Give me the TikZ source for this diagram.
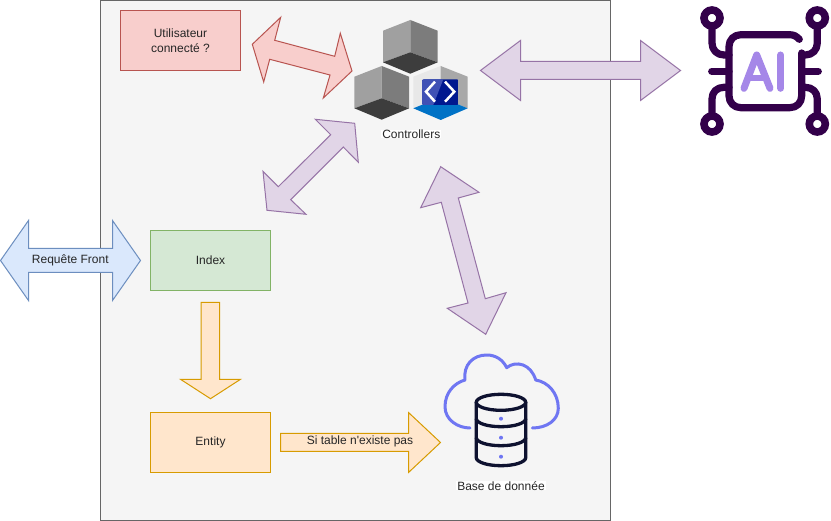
\documentclass[tikz,border=0pt]{standalone}
\usepackage{fontspec}
\setmainfont{Liberation Sans}
\newfontfamily\plainquote{Liberation Sans}
\definecolor{framefill}{HTML}{F5F5F5}
\definecolor{framedraw}{HTML}{666666}
\definecolor{purpfill}{HTML}{E1D5E7}
\definecolor{purpdraw}{HTML}{9673A6}
\definecolor{redfill}{HTML}{F8CECC}
\definecolor{reddraw}{HTML}{B85450}
\definecolor{bluefill}{HTML}{DAE8FC}
\definecolor{bluedraw}{HTML}{6C8EBF}
\definecolor{greenfill}{HTML}{D5E8D4}
\definecolor{greendraw}{HTML}{82B366}
\definecolor{orfill}{HTML}{FFE6CC}
\definecolor{ordraw}{HTML}{D79B00}
\definecolor{aidark}{HTML}{33004A}
\definecolor{ailav}{HTML}{A587E8}
\definecolor{dbnavy}{HTML}{0E1230}
\definecolor{dblav}{HTML}{6F76F2}
\definecolor{cubeA}{HTML}{A0A0A0}
\definecolor{cubeB}{HTML}{7C7C7C}
\definecolor{cubeC}{HTML}{3D3D3D}
\definecolor{cubeD}{HTML}{E8E8E8}
\definecolor{cubeE}{HTML}{A8A8A8}
\definecolor{cubeF}{HTML}{0072C6}
\definecolor{codeA}{HTML}{3F51B5}
\definecolor{codeB}{HTML}{00188F}
\tikzset{
  lbl/.style={font=\fontsize{12}{15}\selectfont, text=black!85, inner sep=0pt, align=center},
  boxn/.style={draw, line width=1pt, minimum width=120pt, minimum height=60pt, inner sep=0pt, font=\fontsize{12}{15}\selectfont, text=black!85, align=center},
  blockpurple/.style={fill=purpfill, draw=purpdraw, line width=1pt, line join=miter},
  blockred/.style={fill=redfill, draw=reddraw, line width=1pt},
  blockblue/.style={fill=bluefill, draw=bluedraw, line width=1pt},
  blockor/.style={fill=orfill, draw=ordraw, line width=1pt},
  ailine/.style={draw=aidark, line width=7.2pt, line cap=round, line join=round},
  ailetter/.style={draw=ailav, line width=7pt, line cap=round, line join=round},
  dbline/.style={draw=dbnavy, line width=3.3pt, line cap=round, line join=round},
  cloudline/.style={draw=dblav, line width=3pt, line cap=round, line join=round},
}
\newcommand{\graycube}[2]{%
  \begin{scope}[shift={(#1,#2)}]
    \fill[cubeA] (383,30.7) -- (410.3,20) -- (410.3,52.3) -- (383,62.3) -- cycle;
    \fill[cubeB] (437.7,30.7) -- (410.3,20) -- (410.3,52.3) -- (437.7,62.3) -- cycle;
    \fill[cubeC] (383,62.3) -- (410.3,52.3) -- (437.7,62.3) -- (410.3,73.7) -- cycle;
  \end{scope}}
\begin{document}
\begin{tikzpicture}[x=1pt,y=-1pt]
\useasboundingbox (0,0) rectangle (831,521);
\fill[white] (0,0) rectangle (831,521);
% frame
\node[draw=framedraw, fill=framefill, line width=1pt, minimum width=510pt, minimum height=520pt, inner sep=0pt] (frame) at (355.5,260.5) {};
% boxes
\node[boxn, fill=redfill, draw=reddraw] (user) at (180.5,40.5) {Utilisateur\\connecté ?};
\node[boxn, fill=greenfill, draw=greendraw] (index) at (210.5,260.5) {Index};
\node[boxn, fill=orfill, draw=ordraw] (entity) at (210.5,442.5) {Entity};
% block arrows
\draw[blockred] (280.7,17.3) -- (252.3,44.3) -- (263.7,82) -- (269.7,59.3) -- (330,75) -- (323.3,98) -- (352,71) -- (340.3,33.3) -- (334.7,56.3) -- (274.7,40.3) -- cycle;
\draw[blockpurple] (315.3,119.3) -- (354.7,123.3) -- (358.3,162.3) -- (343.3,147) -- (290.7,199.7) -- (306,214.3) -- (267,210.3) -- (263,171.3) -- (278.3,186.7) -- (330.7,134.7) -- cycle;
\draw[blockpurple] (440.7,166.7) -- (479,192.3) -- (458.3,198) -- (485.3,298.7) -- (506,292.7) -- (485.7,334.3) -- (447.3,308.3) -- (468,303) -- (441.3,202.3) -- (420.7,207.7) -- cycle;
\draw[blockpurple] (480.5,70.5) -- (520.5,40.5) -- (520.5,61.5) -- (640.5,61.5) -- (640.5,40.5) -- (680.5,70.5) -- (640.5,100.5) -- (640.5,79.5) -- (520.5,79.5) -- (520.5,100.5) -- cycle;
\draw[blockblue] (0.5,260.5) -- (28.5,220.5) -- (28.5,248.5) -- (112.5,248.5) -- (112.5,220.5) -- (140.5,260.5) -- (112.5,300.5) -- (112.5,272.5) -- (28.5,272.5) -- (28.5,300.5) -- cycle;
\draw[blockor] (201,302.5) -- (219.7,302.5) -- (219.7,379.3) -- (240.5,379.3) -- (210.5,398.7) -- (180.5,379.3) -- (201,379.3) -- cycle;
\draw[blockor] (280.5,433.5) -- (408.5,433.5) -- (408.5,412.5) -- (440.5,442.5) -- (408.5,472.5) -- (408.5,451.5) -- (280.5,451.5) -- cycle;
\node[lbl] (front) at (70.3,260) {Requête Front};
\node[lbl] (nopas) at (360,441.5) {\plainquote Si table n'existe pas};
% cubes
\graycube{0}{0}
\graycube{-28.6}{46}
\fill[cubeD] (413.3,76.7) -- (440.7,66) -- (440.7,97.3) -- (413.3,108.3) -- cycle;
\fill[cubeE] (467.7,76.7) -- (440.7,66) -- (440.7,97.3) -- (467.7,108.3) -- cycle;
\fill[cubeF] (413.3,108.3) -- (440.7,97.3) -- (467.7,108.3) -- (440.7,120) -- cycle;
\begin{scope}
  \clip[rounded corners=2pt] (422,79.3) rectangle (458.7,105);
  \fill[codeB] (422,79.3) rectangle (458.7,105);
  \fill[codeA] (422,79.3) -- (443.3,79.3) -- (433.3,105) -- (422,105) -- cycle;
\end{scope}
\draw[white, line width=2.5pt] (435,81.7) -- (426,91.7) -- (435,101.7);
\draw[white, line width=2.5pt] (445,81.7) -- (454.3,91.7) -- (445,101.7);
\node[lbl, fill=white, inner xsep=1pt] (ctrl) at (411.3,134) {Controllers};
% AI chip
\draw[ailine] (799.3,39.3) .. controls (796,36) and (794,34.7) .. (789,34.7) -- (741,34.7) .. controls (734,34.7) and (729,39.7) .. (729,46.7) -- (729,95.7) .. controls (729,102.7) and (734,107.7) .. (741,107.7) -- (789.7,107.7) .. controls (796.7,107.7) and (801.7,102.7) .. (801.7,95.7) -- (801.7,53);
\draw[ailine] (712,26) -- (712,43) .. controls (712,50) and (717,55) .. (724,55) -- (729,55);
\draw[ailine] (817.3,26) -- (817.3,43) .. controls (817.3,50) and (812.3,55) .. (805.3,55) -- (801.7,55);
\draw[ailine] (712,116) -- (712,99) .. controls (712,92) and (717,87.3) .. (724,87.3) -- (729,87.3);
\draw[ailine] (817.3,116) -- (817.3,99) .. controls (817.3,92) and (812.3,87.3) .. (805.3,87.3) -- (801.7,87.3);
\draw[ailine] (711.7,71.3) -- (729,71.3);
\draw[ailine] (801.7,71.3) -- (818.3,71.3);
\draw[aidark, line width=7.6pt] (712,18) circle (8);
\draw[aidark, line width=7.6pt] (817.3,18) circle (8);
\draw[aidark, line width=7.6pt] (712,124) circle (8);
\draw[aidark, line width=7.6pt] (817.3,124) circle (8);
\draw[ailetter] (744,88.3) -- (756.7,55) -- (770,88.3);
\draw[ailetter, line width=6pt, line cap=butt] (750,78.3) -- (764,78.3);
\draw[ailetter] (780.7,55) -- (780.7,88.3);
% database
\draw[cloudline] (470,428) .. controls (458,428) and (445,420) .. (445,406.7)
  .. controls (445,393) and (454,383) .. (465,380)
  .. controls (463,365) and (473,355) .. (486.7,355)
  .. controls (496,355) and (503,360) .. (506.7,367.7)
  .. controls (516,360) and (531,364) .. (535.7,380)
  .. controls (548,382) and (558.3,393) .. (558.3,408.3)
  .. controls (558.3,420) and (547,428) .. (532.3,428);
\draw[dbline] (501,402.3) ellipse (24.7 and 8);
\draw[dbline] (476.3,402.3) -- (476.3,457.7) .. controls (476.3,462) and (487,465.7) .. (501,465.7) .. controls (515,465.7) and (525.7,462) .. (525.7,457.7) -- (525.7,402.3);
\draw[dbline] (476.3,418.7) .. controls (476.3,423) and (487,426.7) .. (501,426.7) .. controls (515,426.7) and (525.7,423) .. (525.7,418.7);
\draw[dbline] (476.3,437.7) .. controls (476.3,442) and (487,445.7) .. (501,445.7) .. controls (515,445.7) and (525.7,442) .. (525.7,437.7);
\fill[dblav] (501,418.7) circle (2) (501,437.7) circle (2) (501,456.7) circle (2);
\node[lbl, fill=white, inner xsep=1pt] (dbname) at (501,485.7) {Base de donnée};
\end{tikzpicture}
\end{document}
